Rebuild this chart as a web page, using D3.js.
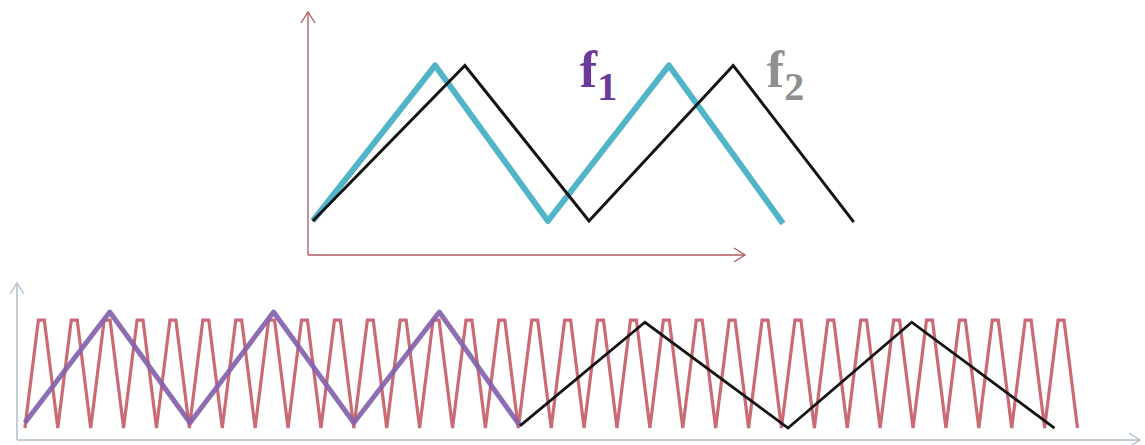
<!DOCTYPE html>
<html>
<head>
<meta charset="utf-8">
<script src="https://cdn.jsdelivr.net/npm/d3@7"></script>
<style>
  body { margin: 0; background: #fff; }
  svg { display: block; }
</style>
</head>
<body>
<div id="chart"></div>
<script>
// top panel: two triangle waves f1, f2 (time units / amplitude units)
var f1T = [1.1, 29.1, 54.9, 82.6, 108.7];
var f1V = [1.4, 7.8, 1.4, 7.8, 1.3];
var f2T = [1.1, 35.9, 64.3, 97.3, 124.9];
var f2V = [1.4, 7.8, 1.4, 7.8, 1.35];
var labels = [
  {name: "f", sub: "1", t: 62.2, v: 6.9, color: "#6b3a99"},
  {name: "f", sub: "2", t: 105.0, v: 6.9, color: "#8f8f8f"}
];

// bottom panel: sampling carrier (troughs / peaks) and the sampled signals
var carrierLowT = [0, 1, 2, 3, 4, 5, 6, 7, 8, 9, 10, 11, 12, 13, 14, 15, 16,
                   17, 18, 19, 20, 21, 22, 23, 24, 25, 26, 27, 28, 29, 30, 31, 32];
var carrierHighT = [0.5, 1.5, 2.5, 3.5, 4.5, 5.5, 6.5, 7.5, 8.5, 9.5, 10.5, 11.5,
                    12.5, 13.5, 14.5, 15.5, 16.5, 17.5, 18.5, 19.5, 20.5, 21.5,
                    22.5, 23.5, 24.5, 25.5, 26.5, 27.5, 28.5, 29.5, 30.5, 31.5];
var carrierLow = 0.76, carrierHigh = 7.64;
var s1T = [0, 2.58, 5.02, 7.56, 10.0, 12.6, 15.05];
var s1V = [1.1, 8.15, 1.1, 8.15, 1.1, 8.15, 0.9];
var s2T = [15.05, 18.85, 23.2, 26.96, 31.3];
var s2V = [0.9, 7.5, 0.76, 7.5, 0.76];

var W = 1145, H = 445;
var svg = d3.select("#chart").append("svg")
    .attr("width", W).attr("height", H);

var defs = svg.append("defs");
function chevron(id, color) {
  defs.append("marker")
      .attr("id", id)
      .attr("viewBox", "-12 -8 14 16")
      .attr("refX", 0).attr("refY", 0)
      .attr("markerUnits", "userSpaceOnUse")
      .attr("markerWidth", 14).attr("markerHeight", 16)
      .attr("orient", "auto")
    .append("path")
      .attr("d", "M-11,-7L0,0L-11,7")
      .attr("fill", "none")
      .attr("stroke", color)
      .attr("stroke-width", 1.3);
}
chevron("arrTop", "#b0585c");
chevron("arrBot", "#aebccb");

// ---- top panel ----
var xTop = d3.scaleLinear().domain([0, 100]).range([308, 745]);
var yTop = d3.scaleLinear().domain([0, 10]).range([255, 12]);

var topAxX = svg.append("g")
    .attr("transform", "translate(0," + yTop(0) + ")")
    .call(d3.axisBottom(xTop).ticks(0).tickSizeOuter(0));
var topAxY = svg.append("g")
    .attr("transform", "translate(" + xTop(0) + ",0)")
    .call(d3.axisLeft(yTop).ticks(0).tickSizeOuter(0));
[topAxX, topAxY].forEach(function(g) {
  g.select(".domain")
      .attr("stroke", "#b0585c")
      .attr("stroke-width", 1.3)
      .attr("marker-end", "url(#arrTop)");
});
// axis paths run from range start to end; y axis needs to point upward
topAxY.select(".domain").attr("d", "M0," + yTop(0) + "V" + yTop(10));
topAxX.select(".domain").attr("d", "M0,0H" + (xTop(100) - xTop(0)))
    .attr("transform", "translate(" + xTop(0) + ",0)");

var lineTop = d3.line()
    .x(function(d) { return xTop(d[0]); })
    .y(function(d) { return yTop(d[1]); });

svg.append("path")
    .datum(d3.zip(f1T, f1V))
    .attr("d", lineTop)
    .attr("fill", "none")
    .attr("stroke", "#52b4c9")
    .attr("stroke-width", 6)
    .attr("stroke-linejoin", "round");

svg.append("path")
    .datum(d3.zip(f2T, f2V))
    .attr("d", lineTop)
    .attr("fill", "none")
    .attr("stroke", "#141414")
    .attr("stroke-width", 3);

labels.forEach(function(l) {
  var t = svg.append("text")
      .attr("x", xTop(l.t))
      .attr("y", yTop(l.v))
      .attr("fill", l.color)
      .style("font-family", "'Liberation Serif', 'DejaVu Serif', serif")
      .style("font-weight", "bold")
      .style("font-size", "52px")
      .text(l.name);
  t.append("tspan")
      .attr("dy", 13)
      .style("font-size", "40px")
      .text(l.sub);
});

// ---- bottom panel ----
var xBot = d3.scaleLinear().domain([-0.24, 33.9]).range([17, 1140]);
var yBot = d3.scaleLinear().domain([0, 10]).range([440, 283]);

var botAxX = svg.append("g")
    .attr("transform", "translate(0," + yBot(0) + ")")
    .call(d3.axisBottom(xBot).ticks(0).tickSizeOuter(0));
var botAxY = svg.append("g")
    .attr("transform", "translate(" + xBot(-0.24) + ",0)")
    .call(d3.axisLeft(yBot).ticks(0).tickSizeOuter(0));
[botAxX, botAxY].forEach(function(g) {
  g.select(".domain")
      .attr("stroke", "#aebccb")
      .attr("stroke-width", 1.5)
      .attr("marker-end", "url(#arrBot)");
});
botAxY.select(".domain").attr("d", "M0," + yBot(0) + "V" + yBot(10));
botAxX.select(".domain").attr("d", "M0,0H" + (xBot(33.9) - xBot(-0.24)))
    .attr("transform", "translate(" + xBot(-0.24) + ",0)");

var lineBot = d3.line()
    .x(function(d) { return xBot(d[0]); })
    .y(function(d) { return yBot(d[1]); });

// carrier: flat-topped narrow peaks between troughs
var flat = 0.09;
var carrier = [];
carrierLowT.forEach(function(t, i) {
  carrier.push([t, carrierLow]);
  if (i < carrierHighT.length) {
    carrier.push([carrierHighT[i] - flat, carrierHigh]);
    carrier.push([carrierHighT[i] + flat, carrierHigh]);
  }
});

svg.append("path")
    .datum(carrier)
    .attr("d", lineBot)
    .attr("fill", "none")
    .attr("stroke", "#c45a66")
    .attr("stroke-opacity", 0.9)
    .attr("stroke-width", 3.2);

svg.append("path")
    .datum(d3.zip(s1T, s1V))
    .attr("d", lineBot)
    .attr("fill", "none")
    .attr("stroke", "#8462ad")
    .attr("stroke-opacity", 0.92)
    .attr("stroke-width", 5)
    .attr("stroke-linejoin", "round");

svg.append("path")
    .datum(d3.zip(s2T, s2V))
    .attr("d", lineBot)
    .attr("fill", "none")
    .attr("stroke", "#141414")
    .attr("stroke-width", 2.8);
</script>
</body>
</html>
